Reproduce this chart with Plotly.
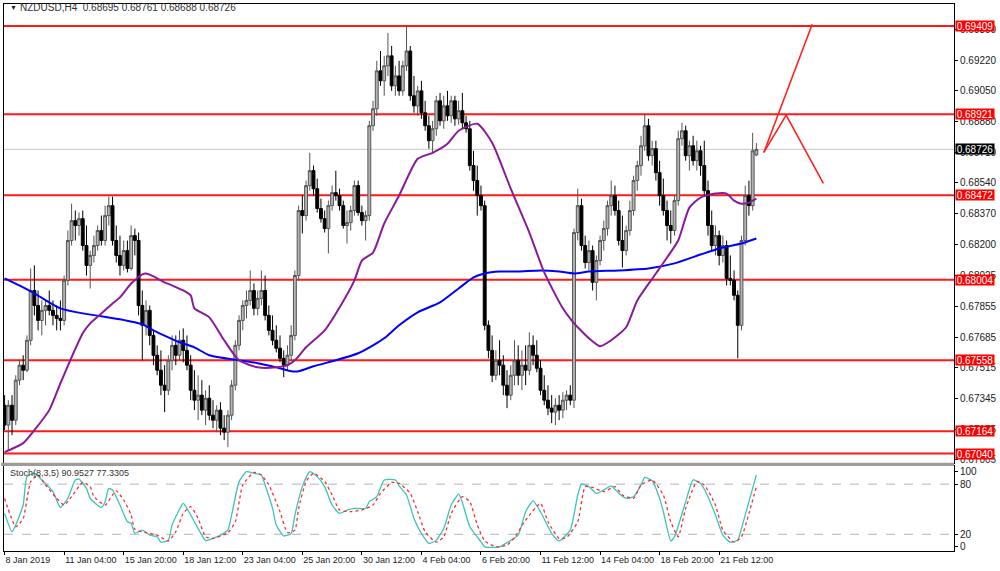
import plotly.graph_objects as go

# ---------------- data ----------------
symbol_title = "NZDUSD,H4  0.68695 0.68761 0.68688 0.68726"
stoch_title = "Stoch(8,3,5) 90.9527 77.3305"

O = [0.67308,0.67198,0.67308,0.67225,0.67447,0.67530,0.67502,0.67668,0.67944,0.67861,
     0.67778,0.67834,0.67861,0.67834,0.67806,0.67789,0.67778,0.68000,0.68221,0.68331,
     0.68304,0.68342,0.68193,0.68083,0.68138,0.68193,0.68276,0.68221,0.68359,0.68414,
     0.68221,0.68138,0.68083,0.68165,0.68066,0.68248,0.68221,0.67861,0.67751,0.67834,
     0.67695,0.67585,0.67502,0.67419,0.67391,0.67557,0.67640,0.67585,0.67668,0.67612,
     0.67530,0.67391,0.67336,0.67364,0.67281,0.67347,0.67253,0.67225,0.67281,0.67181,
     0.67159,0.67253,0.67419,0.67640,0.67778,0.67861,0.67889,0.67944,0.67845,0.67900,
     0.67944,0.67806,0.67723,0.67668,0.67624,0.67568,0.67530,0.67585,0.67695,0.68027,
     0.68387,0.68359,0.68525,0.68608,0.68508,0.68398,0.68342,0.68287,0.68414,0.68486,
     0.68470,0.68414,0.68304,0.68320,0.68387,0.68525,0.68376,0.68331,0.68359,0.68857,
     0.68951,0.69161,0.69106,0.69189,0.69244,0.69078,0.69133,0.69050,0.69189,0.69271,
     0.69023,0.68967,0.69050,0.68929,0.68857,0.68774,0.68840,0.68995,0.68884,0.68967,
     0.68912,0.68995,0.68895,0.68940,0.68873,0.68840,0.68636,0.68553,0.68470,0.68414,
     0.67751,0.67612,0.67474,0.67557,0.67530,0.67419,0.67364,0.67474,0.67557,0.67474,
     0.67530,0.67502,0.67640,0.67585,0.67513,0.67391,0.67336,0.67292,0.67270,0.67308,
     0.67281,0.67336,0.67364,0.67336,0.68265,0.68414,0.68193,0.68099,0.68165,0.67989,
     0.68110,0.68221,0.68287,0.68414,0.68470,0.68387,0.68221,0.68165,0.68276,0.68387,
     0.68553,0.68636,0.68746,0.68857,0.68691,0.68730,0.68597,0.68470,0.68387,0.68304,
     0.68276,0.68442,0.68785,0.68829,0.68691,0.68746,0.68663,0.68718,0.68636,0.68497,
     0.68304,0.68193,0.68248,0.68138,0.68193,0.68011,0.68000,0.67917,0.67751,0.68221,
     0.68470,0.68414,0.68695]

H = [0.67364,0.67336,0.67364,0.67474,0.67557,0.67585,0.67695,0.68066,0.68083,0.67944,
     0.67889,0.67889,0.67944,0.67889,0.67861,0.67889,0.68027,0.68276,0.68425,0.68387,
     0.68376,0.68387,0.68304,0.68165,0.68248,0.68304,0.68359,0.68414,0.68464,0.68464,
     0.68304,0.68248,0.68221,0.68221,0.68304,0.68287,0.68265,0.67944,0.67889,0.67861,
     0.67723,0.67640,0.67612,0.67530,0.67585,0.67695,0.67695,0.67723,0.67734,0.67695,
     0.67585,0.67502,0.67474,0.67447,0.67391,0.67419,0.67336,0.67308,0.67325,0.67253,
     0.67281,0.67447,0.67668,0.67806,0.67889,0.67944,0.68055,0.67983,0.67944,0.68055,
     0.68027,0.67861,0.67806,0.67751,0.67695,0.67612,0.67640,0.67751,0.68055,0.68414,
     0.68470,0.68553,0.68707,0.68636,0.68564,0.68453,0.68387,0.68442,0.68525,0.68608,
     0.68508,0.68442,0.68387,0.68414,0.68553,0.68553,0.68414,0.68387,0.68884,0.68995,
     0.69216,0.69271,0.69244,0.69371,0.69299,0.69189,0.69216,0.69216,0.69404,0.69299,
     0.69133,0.69078,0.69106,0.68995,0.68912,0.68884,0.69023,0.69039,0.69023,0.69050,
     0.69023,0.69023,0.68995,0.69039,0.68912,0.68884,0.68718,0.68636,0.68525,0.68442,
     0.67778,0.67695,0.67612,0.67668,0.67585,0.67502,0.67530,0.67668,0.67640,0.67612,
     0.67640,0.67712,0.67695,0.67668,0.67557,0.67474,0.67419,0.67364,0.67347,0.67364,
     0.67380,0.67391,0.67419,0.68287,0.68508,0.68453,0.68248,0.68221,0.68193,0.68138,
     0.68248,0.68331,0.68442,0.68553,0.68525,0.68442,0.68359,0.68304,0.68442,0.68580,
     0.68663,0.68801,0.68923,0.68895,0.68774,0.68774,0.68663,0.68564,0.68442,0.68387,
     0.68470,0.68829,0.68873,0.68857,0.68774,0.68801,0.68774,0.68746,0.68774,0.68553,
     0.68387,0.68304,0.68276,0.68248,0.68221,0.68138,0.68055,0.67944,0.68248,0.68525,
     0.68553,0.68818,0.68761]

L = [0.67170,0.67059,0.67142,0.67198,0.67419,0.67447,0.67491,0.67640,0.67806,0.67723,
     0.67695,0.67751,0.67806,0.67751,0.67723,0.67723,0.67751,0.67972,0.68193,0.68221,
     0.68248,0.68165,0.68027,0.67955,0.68099,0.68165,0.68193,0.68193,0.68304,0.68193,
     0.68099,0.68027,0.68055,0.68044,0.68055,0.68138,0.67806,0.67557,0.67695,0.67640,
     0.67530,0.67474,0.67364,0.67270,0.67364,0.67502,0.67530,0.67557,0.67546,0.67502,
     0.67336,0.67281,0.67225,0.67253,0.67198,0.67225,0.67181,0.67159,0.67142,0.67115,
     0.67076,0.67225,0.67391,0.67612,0.67723,0.67789,0.67861,0.67806,0.67806,0.67861,
     0.67778,0.67695,0.67640,0.67601,0.67546,0.67463,0.67502,0.67557,0.67668,0.68000,
     0.68260,0.68331,0.68497,0.68470,0.68376,0.68320,0.68265,0.68149,0.68387,0.68442,
     0.68387,0.68287,0.68204,0.68276,0.68359,0.68359,0.68304,0.68221,0.68331,0.68829,
     0.68912,0.69078,0.69023,0.69133,0.69050,0.69023,0.69023,0.69023,0.69161,0.68995,
     0.68929,0.68912,0.68895,0.68829,0.68730,0.68702,0.68801,0.68857,0.68840,0.68884,
     0.68873,0.68857,0.68862,0.68840,0.68818,0.68608,0.68497,0.68359,0.68387,0.67723,
     0.67568,0.67436,0.67447,0.67474,0.67364,0.67292,0.67336,0.67419,0.67419,0.67391,
     0.67419,0.67474,0.67530,0.67491,0.67364,0.67308,0.67253,0.67209,0.67198,0.67225,
     0.67236,0.67281,0.67308,0.67292,0.68221,0.68165,0.68066,0.68055,0.67944,0.67889,
     0.68083,0.68165,0.68248,0.68359,0.68359,0.68193,0.68071,0.68138,0.68248,0.68359,
     0.68497,0.68580,0.68718,0.68663,0.68636,0.68553,0.68414,0.68359,0.68221,0.68204,
     0.68248,0.68414,0.68746,0.68663,0.68608,0.68636,0.68608,0.68580,0.68470,0.68248,
     0.68165,0.68138,0.68083,0.68099,0.67972,0.67972,0.67889,0.67568,0.67723,0.68193,
     0.68359,0.68387,0.68688]

C = [0.67198,0.67308,0.67225,0.67447,0.67530,0.67502,0.67668,0.67944,0.67861,0.67778,
     0.67834,0.67861,0.67834,0.67806,0.67789,0.67778,0.68000,0.68221,0.68331,0.68304,
     0.68342,0.68193,0.68083,0.68138,0.68193,0.68276,0.68221,0.68359,0.68414,0.68221,
     0.68138,0.68083,0.68165,0.68066,0.68248,0.68221,0.67861,0.67751,0.67834,0.67695,
     0.67585,0.67502,0.67419,0.67391,0.67557,0.67640,0.67585,0.67668,0.67612,0.67530,
     0.67391,0.67336,0.67364,0.67281,0.67347,0.67253,0.67225,0.67281,0.67181,0.67159,
     0.67253,0.67419,0.67640,0.67778,0.67861,0.67889,0.67944,0.67845,0.67900,0.67944,
     0.67806,0.67723,0.67668,0.67624,0.67568,0.67530,0.67585,0.67695,0.68027,0.68387,
     0.68359,0.68525,0.68608,0.68508,0.68398,0.68342,0.68287,0.68414,0.68486,0.68470,
     0.68414,0.68304,0.68320,0.68387,0.68525,0.68376,0.68331,0.68359,0.68857,0.68951,
     0.69161,0.69106,0.69189,0.69244,0.69078,0.69133,0.69050,0.69189,0.69271,0.69023,
     0.68967,0.69050,0.68929,0.68857,0.68774,0.68840,0.68995,0.68884,0.68967,0.68912,
     0.68995,0.68895,0.68940,0.68873,0.68840,0.68636,0.68553,0.68470,0.68414,0.67751,
     0.67612,0.67474,0.67557,0.67530,0.67419,0.67364,0.67474,0.67557,0.67474,0.67530,
     0.67502,0.67640,0.67585,0.67513,0.67391,0.67336,0.67292,0.67270,0.67308,0.67281,
     0.67336,0.67364,0.67336,0.68265,0.68414,0.68193,0.68099,0.68165,0.67989,0.68110,
     0.68221,0.68287,0.68414,0.68470,0.68387,0.68221,0.68165,0.68276,0.68387,0.68553,
     0.68636,0.68746,0.68857,0.68691,0.68730,0.68597,0.68470,0.68387,0.68304,0.68276,
     0.68442,0.68785,0.68829,0.68691,0.68746,0.68663,0.68718,0.68636,0.68497,0.68304,
     0.68193,0.68248,0.68138,0.68193,0.68011,0.68000,0.67917,0.67751,0.68221,0.68470,
     0.68414,0.68718,0.68726]

# x-axis time labels (bar index where each label sits)
tick_bars = [0, 16, 32, 48, 64, 80, 96, 112, 128, 144, 160, 176, 192]
tick_text = ["8 Jan 2019", "11 Jan 04:00", "15 Jan 20:00", "18 Jan 12:00", "23 Jan 04:00",
             "25 Jan 20:00", "30 Jan 12:00", "4 Feb 04:00", "6 Feb 20:00", "11 Feb 12:00",
             "14 Feb 04:00", "18 Feb 20:00", "21 Feb 12:00"]

# price scale labels
price_ticks = [0.69390, 0.69220, 0.69050, 0.68880, 0.68710, 0.68540, 0.68370, 0.68200,
               0.68025, 0.67855, 0.67685, 0.67515, 0.67345, 0.67175, 0.67005]

# horizontal levels and current price
levels = [0.69409, 0.68921, 0.68472, 0.68004, 0.67558, 0.67164, 0.67040]
last_price = 0.68726

# moving averages (bar index, value)
ma_fast_bar = [0,5,8,12,15,18,21,23,26,29,31,34,37,38,40,43,45,48,50,51,55,59,63,68,73,76,78,81,86,90,94,
               96,99,102,106,111,115,119,122,127,131,136,141,145,150,153,154,157,160,163,167,170,175,178,
               181,184,187,191,194,196,198,200,202]
ma_fast_val = [0.67048,0.67098,0.67170,0.67281,0.67430,0.67574,0.67707,0.67762,0.67817,0.67872,0.67906,
               0.67983,0.68033,0.68038,0.68022,0.67989,0.67972,0.67944,0.67917,0.67845,0.67795,0.67668,
               0.67557,0.67518,0.67518,0.67530,0.67557,0.67629,0.67723,0.67850,0.68000,0.68110,0.68154,
               0.68315,0.68470,0.68674,0.68707,0.68757,0.68829,0.68868,0.68763,0.68508,0.68265,0.68044,
               0.67845,0.67762,0.67740,0.67679,0.67635,0.67668,0.67740,0.67889,0.68038,0.68127,0.68221,
               0.68403,0.68459,0.68481,0.68481,0.68442,0.68425,0.68431,0.68453]
ma_slow_bar = [0,5,8,12,15,21,26,31,37,40,44,47,51,55,63,68,73,77,79,83,89,95,99,102,106,111,117,122,
               126,129,133,138,144,149,153,157,165,173,180,187,192,198,202]
ma_slow_val = [0.68011,0.67961,0.67928,0.67878,0.67845,0.67817,0.67801,0.67784,0.67756,0.67723,0.67684,
               0.67657,0.67629,0.67585,0.67557,0.67541,0.67518,0.67496,0.67496,0.67524,0.67557,0.67596,
               0.67640,0.67679,0.67751,0.67823,0.67878,0.67955,0.68016,0.68038,0.68049,0.68049,0.68055,
               0.68049,0.68038,0.68049,0.68055,0.68066,0.68094,0.68143,0.68177,0.68204,0.68232]

# stochastic main line and signal line (bar index, value)
stoch_k_bar = [0,2,3,5,6,8,10,13,15,17,19,20,22,23,26,27,28,29,31,33,34,35,37,39,41,42,44,45,48,49,51,53,
               54,56,58,60,61,63,65,67,69,70,72,73,75,77,78,80,82,84,86,88,90,92,94,97,98,100,102,105,106,
               108,110,112,114,116,118,120,122,123,125,128,129,133,135,138,140,142,144,147,149,152,154,155,
               157,159,161,163,165,167,169,171,172,174,176,177,179,180,183,185,187,189,191,193,195,197,198,
               200,202]
stoch_k_val = [45,23,31,55,89,93,85,71,52,63,85,86,75,63,52,59,75,73,55,35,33,21,25,19,17,10.5,13,31,57,51,
               35,19,12.5,15,19,25,43,83,95,93,91,79,51,31,18,21,43,77,95,89,77,55,45,49,51,51,59,65,85,85,
               78,67,39,21,9,13,27,55,68,58,29,11,5,5,10,19,47,60,47,21,12,25,67,80,77,69,73,78,69,63,65,79,
               88,84,63,47,12,17,59,85,81,65,43,19,10.5,13,27,59,91]
stoch_d_bar = [0,3,5,7,9,11,14,16,18,21,23,24,27,29,30,32,34,35,38,41,44,46,48,50,52,54,56,60,62,64,67,69,
               71,74,76,78,79,81,83,86,88,90,93,96,99,101,104,106,109,111,113,116,118,120,123,125,127,129,
               132,135,137,140,144,146,149,151,154,156,158,161,164,166,169,171,174,177,179,181,183,186,188,
               191,193,196,198,200,202]
stoch_d_val = [63,29,39,83,91,79,63,55,65,82,77,65,55,67,72,61,43,26,22,19,12,23,45,53,39,17,15,22,35,79,94,
               91,79,47,22,25,51,83,93,83,67,49,47,49,55,69,82,81,69,47,23,10.5,17,45,65,59,31,12,5,7,16,37,
               57,35,15,16,35,77,76,71,77,67,63,79,85,67,35,17,51,83,79,55,25,10.5,17,45,77]

# hand-drawn projection lines (bar index, price)
proj_up_bar = [204, 217]
proj_up_val = [0.68709, 0.69419]
proj_zz_bar = [204, 210, 220]
proj_zz_val = [0.68709, 0.68916, 0.68538]

# ---------------- figure ----------------
FONT = "Liberation Sans, Arial, sans-serif"
bars = list(range(len(C)))

fig = go.Figure()

# horizontal levels + last price line (drawn below candles)
for lv in levels:
    fig.add_shape(type="line", xref="x domain", yref="y", x0=0, x1=1, y0=lv, y1=lv,
                  line=dict(color="#ff1a1a", width=2), layer="below")
fig.add_shape(type="line", xref="x domain", yref="y", x0=0, x1=1, y0=last_price, y1=last_price,
              line=dict(color="#c8c8c8", width=1), layer="below")

fig.add_trace(go.Candlestick(
    x=bars, open=O, high=H, low=L, close=C,
    increasing=dict(line=dict(color="#555555", width=1), fillcolor="#b4b4b4"),
    decreasing=dict(line=dict(color="#000000", width=1), fillcolor="#000000"),
    whiskerwidth=0, hoverinfo="skip", xaxis="x", yaxis="y", showlegend=False))

fig.add_trace(go.Scatter(x=ma_slow_bar, y=ma_slow_val, mode="lines",
                         line=dict(color="#0000ff", width=2, shape="spline", smoothing=0.6),
                         hoverinfo="skip", showlegend=False, xaxis="x", yaxis="y"))
fig.add_trace(go.Scatter(x=ma_fast_bar, y=ma_fast_val, mode="lines",
                         line=dict(color="#8a1a9a", width=2, shape="spline", smoothing=0.6),
                         hoverinfo="skip", showlegend=False, xaxis="x", yaxis="y"))

fig.add_trace(go.Scatter(x=proj_up_bar, y=proj_up_val, mode="lines",
                         line=dict(color="#ff2020", width=1.6), hoverinfo="skip",
                         showlegend=False, xaxis="x", yaxis="y"))
fig.add_trace(go.Scatter(x=proj_zz_bar, y=proj_zz_val, mode="lines",
                         line=dict(color="#ff2020", width=1.6), hoverinfo="skip",
                         showlegend=False, xaxis="x", yaxis="y"))

# stochastic
fig.add_trace(go.Scatter(x=stoch_k_bar, y=stoch_k_val, mode="lines",
                         line=dict(color="#3cc4b8", width=1.3, shape="spline", smoothing=0.5),
                         hoverinfo="skip", showlegend=False, xaxis="x2", yaxis="y2"))
fig.add_trace(go.Scatter(x=stoch_d_bar, y=stoch_d_val, mode="lines",
                         line=dict(color="#ff2a2a", width=1.3, dash="dot", shape="spline", smoothing=0.5),
                         hoverinfo="skip", showlegend=False, xaxis="x2", yaxis="y2"))
for lv in (80, 20):
    fig.add_shape(type="line", xref="x2 domain", yref="y2", x0=0, x1=1, y0=lv, y1=lv,
                  line=dict(color="#b4b4b4", width=1, dash="dash"), layer="below")

# separator between the panes
fig.add_shape(type="rect", xref="paper", yref="paper", x0=-0.003, x1=1.0,
              y0=0.1555, y1=0.1612, fillcolor="#9c9c9c", line=dict(width=0))

# level labels on the price scale
for lv in levels:
    fig.add_annotation(xref="paper", yref="y", x=1.0015, y=lv, xanchor="left", yanchor="middle",
                       text=f"{lv:.5f}", showarrow=False, bgcolor="#ff0000",
                       font=dict(family=FONT, size=10, color="white"), borderpad=0,
                       width=38, height=10, align="center")
fig.add_annotation(xref="paper", yref="y", x=1.0015, y=last_price, xanchor="left", yanchor="middle",
                   text=f"{last_price:.5f}", showarrow=False, bgcolor="#000000",
                   font=dict(family=FONT, size=10, color="white"), borderpad=0,
                   width=38, height=10, align="center")

# titles
fig.add_annotation(xref="paper", yref="paper", x=0.004, y=0.9945, xanchor="left", yanchor="middle",
                   text="▼", showarrow=False, font=dict(family=FONT, size=7, color="#222222"))
fig.add_annotation(xref="paper", yref="paper", x=0.0145, y=0.9945, xanchor="left", yanchor="middle",
                   text=symbol_title, showarrow=False, font=dict(family=FONT, size=10, color="#333333"))
fig.add_annotation(xref="paper", yref="paper", x=0.004, y=0.142, xanchor="left", yanchor="middle",
                   text=stoch_title, showarrow=False, font=dict(family=FONT, size=9, color="#333333"))

fig.update_layout(
    width=1000, height=571,
    margin=dict(l=3, r=42, t=3, b=20),
    paper_bgcolor="white", plot_bgcolor="white",
    boxgap=0.12, boxgroupgap=0.12,
    hovermode=False, showlegend=False,
    xaxis=dict(domain=[0, 1], range=[-0.16, 255.1], showticklabels=False, ticks="",
               showgrid=False, zeroline=False, showline=True, mirror=True, linecolor="black",
               linewidth=1, rangeslider=dict(visible=False), anchor="y"),
    yaxis=dict(domain=[0.1615, 1], range=[0.669899, 0.695314], side="right",
               tickvals=price_ticks, ticktext=[f"{v:.5f}" for v in price_ticks],
               ticks="outside", ticklen=3, tickcolor="black",
               tickfont=dict(family=FONT, size=10, color="#222222"),
               showgrid=False, zeroline=False, showline=True, mirror=True,
               linecolor="black", linewidth=1, anchor="x"),
    xaxis2=dict(domain=[0, 1], range=[-0.16, 255.1], tickvals=tick_bars, ticktext=tick_text,
                ticks="outside", ticklen=3, tickcolor="black", ticklabelposition="outside right",
                tickangle=0,
                tickfont=dict(family=FONT, size=9, color="#222222"),
                showgrid=False, zeroline=False, showline=True, mirror=True,
                linecolor="black", linewidth=1, anchor="y2"),
    yaxis2=dict(domain=[0, 0.1551], range=[0, 101.5], side="right",
                tickvals=[95.6, 80, 20, 5.5], ticktext=["100", "80", "20", "0"],
                ticks="outside", ticklen=3, tickcolor="black",
                tickfont=dict(family=FONT, size=10, color="#222222"),
                showgrid=False, zeroline=False, showline=True, mirror=True,
                linecolor="black", linewidth=1, anchor="x2"),
)

fig.write_html("out.html", config={"displayModeBar": False, "staticPlot": True},
               post_script="document.body.style.margin='0px';document.body.style.padding='0px';"
                           "document.documentElement.style.overflow='hidden';"
                           "document.body.style.overflow='hidden';")
